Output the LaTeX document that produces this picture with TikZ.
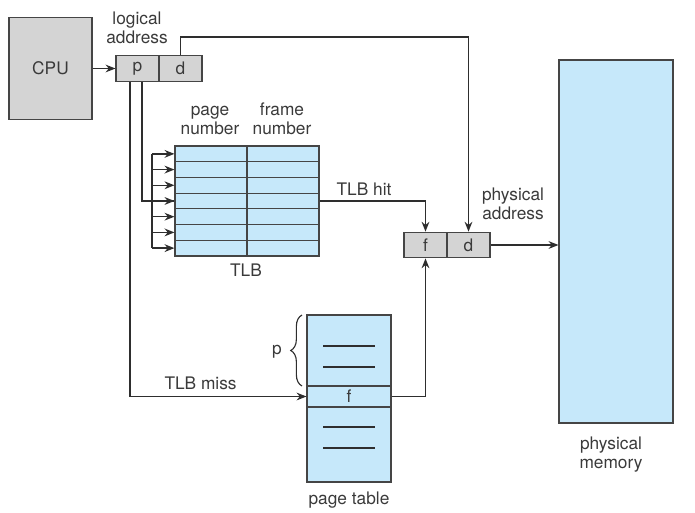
\documentclass[tikz,border=0pt]{standalone}
\usepackage{fontspec}
\setmainfont{TeX Gyre Heros}
\usetikzlibrary{arrows.meta, positioning, calc, decorations.pathreplacing}
\definecolor{pgline}{HTML}{2E2E2E}
\definecolor{pgtext}{HTML}{3A3A3A}
\definecolor{pggray}{HTML}{D4D4D4}
\definecolor{pgblue}{HTML}{C6E8FA}
\definecolor{pgborder}{HTML}{454545}

\begin{document}
\begin{tikzpicture}[
  x=0.025cm, y=-0.025cm,
  every node/.style={font=\fontsize{12.3}{14.2}\selectfont, text=pgtext},
  cpubox/.style={rectangle, draw=pgborder, fill=pggray, line width=0.8pt, minimum width=2.075cm, minimum height=2.55cm, inner sep=0pt},
  addrcell/.style={rectangle, draw=pgborder, fill=pggray, line width=0.8pt, minimum width=1.075cm, minimum height=0.64cm, inner sep=0pt},
  tlbcell/.style={rectangle, draw=pgborder, fill=pgblue, line width=0.8pt, minimum width=1.8cm, minimum height=0.393cm, inner sep=0pt},
  ptcell/.style={rectangle, draw=pgborder, fill=pgblue, line width=0.8pt, minimum width=2.1cm, inner sep=0pt},
  membox/.style={rectangle, draw=pgborder, fill=pgblue, line width=0.8pt, minimum width=2.85cm, minimum height=9.075cm, inner sep=0pt},
  conn/.style={draw=pgline, line width=1.1pt},
  arrow/.style={conn, -{Stealth[length=7pt, width=5.5pt]}},
  label/.style={align=center},
]
\useasboundingbox (0,0) rectangle (695,512);

% CPU and logical address
\node[cpubox] (cpu) at (50.5, 68.5) {CPU};
\node[addrcell] (p) at (137.5, 68.5) {p};
\node[addrcell] (d) at (180.5, 68.5) {d};
\node[label] (logaddr) at (137, 30) {\strut logical\\address\strut};

% TLB
\foreach \i in {1,...,7} {
  \node[tlbcell] (tp\i) at (211, {146+(\i-0.5)*15.71}) {};
  \node[tlbcell] (tf\i) at (283, {146+(\i-0.5)*15.71}) {};
}
\node[label] (pnum) at (210, 121) {\strut page\\number\strut};
\node[label] (fnum) at (282, 121) {\strut frame\\number\strut};
\node (tlblab) at (246, 270) {TLB};

% physical address
\node[addrcell] (pf) at (425.5, 245) {f};
\node[addrcell] (pd) at (468.5, 245) {d};
\node[label] (physaddr) at (513, 206) {\strut physical\\address\strut};

% page table
\node[ptcell, minimum height=1.775cm] (pttop) at (349, 350.5) {};
\node[ptcell, minimum height=0.525cm] (ptf) at (349, 396.5) {f};
\node[ptcell, minimum height=1.875cm] (ptbot) at (349, 444.5) {};
\foreach \yy in {346,367,427,448}
  \draw[pgline, line width=0.8pt] (323,\yy) -- (375,\yy);
\node (ptlab) at (349, 500) {page table};
\draw[pgline, line width=0.8pt, decorate, decoration={brace, amplitude=8pt}] (302,386) -- (302,315);
\node (plab) at (277, 352) {p};

% physical memory
\node[membox] (mem) at (616, 241.5) {};
\node[label] (memlab) at (611, 455) {\strut physical\\memory\strut};

% connectors
\draw[arrow] (cpu) -- (p);
\draw[arrow] (d.north) -- ++(0,-18) -| (pd.north);
\draw[conn] ($(p.south)+(4.5,0)$) |- (tp4.west);
\coordinate (br) at (152, 0);
\draw[conn] (br |- tp1.west) -- (br |- tp7.west);
\foreach \i in {1,...,7}
  \draw[arrow] (br |- tp\i.west) -- (tp\i.west);
\draw[arrow] ($(p.south)+(-7.5,0)$) |- (ptf.west) node[pos=0.7, above, yshift=1pt] {TLB miss};
\draw[arrow] (tf4.east) -| (pf.north) node[pos=0.21, above] {TLB hit};
\draw[arrow] (ptf.east) -| (pf.south);
\draw[arrow] (pd.east) -- (mem.west |- pd.east);

\end{tikzpicture}
\end{document}
